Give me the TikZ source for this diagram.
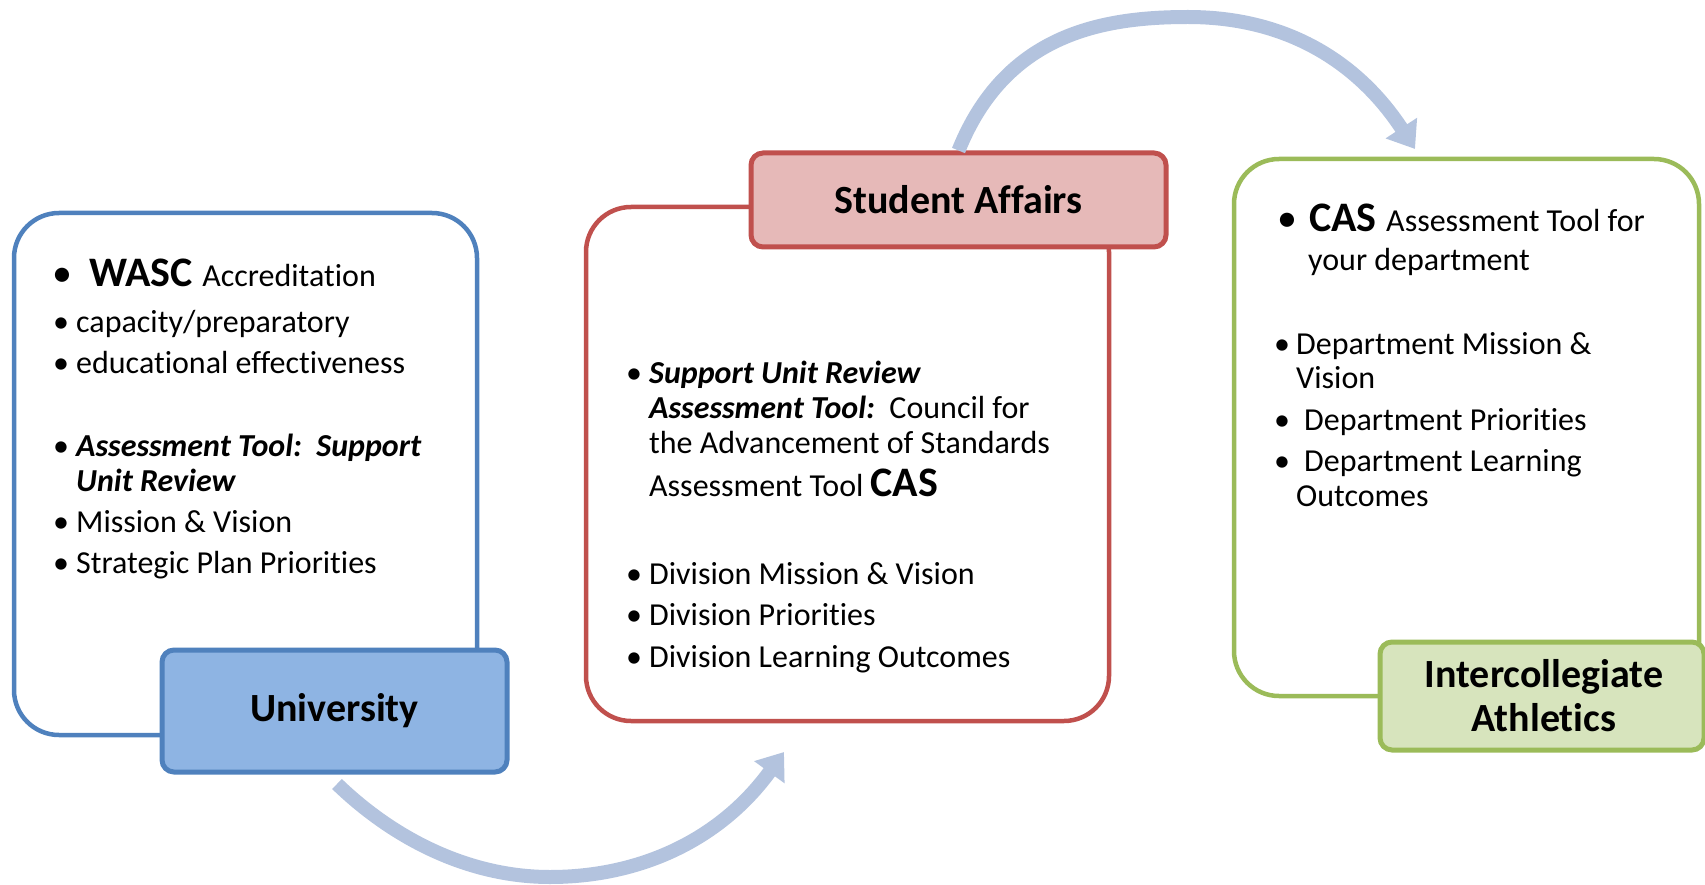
\documentclass[tikz,border=0pt]{standalone}
\usepackage{fontspec}
\setmainfont{Carlito}[RawFeature={-liga;-clig;-rlig;-calt;-dlig}]
\usetikzlibrary{arrows.meta}
\definecolor{bluec}{HTML}{4F81BD}
\definecolor{bluefill}{HTML}{8EB4E3}
\definecolor{redc}{HTML}{C0504D}
\definecolor{redfill}{HTML}{E6B9B8}
\definecolor{greenc}{HTML}{9BBB59}
\definecolor{greenfill}{HTML}{D7E4BD}
\definecolor{arrowc}{HTML}{B3C3DE}
\tikzset{
  bigbox/.style={rectangle, rounded corners=45pt, line width=4.5pt, fill=white, inner sep=0pt},
  titlebox/.style={rectangle, rounded corners=12pt, line width=5pt, inner sep=0pt, align=center,
                   font=\fontsize{40}{44}\selectfont\bfseries},
  txt/.style={anchor=base west, inner sep=0pt, font=\fontsize{32}{38}\selectfont},
  flow/.style={line width=14pt, draw=arrowc, -{Triangle[length=25pt,width=36pt]}}
}
\newcommand{\bigtxt}{\fontsize{42}{42}\selectfont\bfseries}
\newcommand{\normtxt}{\mdseries\fontsize{32}{38}\selectfont}
\begin{document}
\begin{tikzpicture}[x=1pt,y=-1pt]
\useasboundingbox (0,0) rectangle (1705,885);
% arrows
\coordinate (a1e) at (1415,149);
\coordinate (a2s) at (337,784);
\coordinate (a2e) at (784,752);
% boxes
\node[bigbox, draw=bluec, minimum width=463pt, minimum height=522pt] (ubox) at (245.5,474) {};
\node[titlebox, draw=bluec, fill=bluefill, minimum width=345pt, minimum height=122pt] (uni) at (334.5,711) {University};
\node[bigbox, draw=redc, minimum width=523pt, minimum height=514pt] (sbox) at (847.5,464) {};
\node[titlebox, draw=redc, fill=redfill, minimum width=415pt, minimum height=94pt] (sa) at (958.5,200) {Student Affairs};
\node[bigbox, draw=greenc, minimum width=465pt, minimum height=537pt] (gbox) at (1466.5,427.5) {};
\node[titlebox, draw=greenc, fill=greenfill, minimum width=324pt, minimum height=108pt] (ia) at (1542,696) {\hspace*{4pt}Intercollegiate\\\hspace*{4pt}Athletics};
\draw[flow] (sa.north) .. controls (1005,35) and (1100,17) .. (1188,17) .. controls (1290,17) and (1360,65) .. (a1e);
\draw[flow] (a2s) .. controls (395,840) and (470,877) .. (550,877) .. controls (640,877) and (720,840) .. (a2e);
% University text
\node[txt] (u1b) at (52,287) {\fontsize{40}{40}\selectfont\textbullet};
\node[txt] (u1) at (89,287) {\bigtxt WASC \normtxt Accreditation};
\node[txt] (u2b) at (53,332) {\textbullet};
\node[txt] (u2) at (76,332) {capacity/preparatory};
\node[txt] (u3b) at (53,373) {\textbullet};
\node[txt] (u3) at (76,373) {educational effectiveness};
\node[txt] (u4b) at (53,456) {\textbullet};
\node[txt] (u4) at (76,456) {\textbf{\textit{Assessment Tool:\ \ Support}}};
\node[txt] (u5) at (76,491) {\textbf{\textit{Unit Review}}};
\node[txt] (u6b) at (53,532) {\textbullet};
\node[txt] (u6) at (76,532) {Mission \& Vision};
\node[txt] (u7b) at (53,573) {\textbullet};
\node[txt] (u7) at (76,573) {Strategic Plan Priorities};
% Student Affairs text
\node[txt] (s1b) at (626,383) {\textbullet};
\node[txt] (s1) at (649,383) {\textbf{\textit{Support Unit Review}}};
\node[txt] (s2) at (649,418) {\textbf{\textit{Assessment Tool:}}\ \ Council for};
\node[txt] (s3) at (649,453) {the Advancement of Standards};
\node[txt] (s4) at (649,496) {Assessment Tool {\bigtxt CAS}};
\node[txt] (s5b) at (626,584) {\textbullet};
\node[txt] (s5) at (649,584) {Division Mission \& Vision};
\node[txt] (s6b) at (626,625) {\textbullet};
\node[txt] (s6) at (649,625) {Division Priorities};
\node[txt] (s7b) at (626,667) {\textbullet};
\node[txt] (s7) at (649,667) {Division Learning Outcomes};
% Athletics text
\node[txt] (g1b) at (1277,232) {\fontsize{40}{40}\selectfont\textbullet};
\node[txt] (g1) at (1309,232) {\bigtxt CAS \normtxt Assessment Tool for};
\node[txt] (g2) at (1308,271) {your department};
\node[txt] (g3b) at (1274,354) {\textbullet};
\node[txt] (g3) at (1296,354) {Department Mission \&};
\node[txt] (g4) at (1296,388) {Vision};
\node[txt] (g5b) at (1274,430) {\textbullet};
\node[txt] (g5) at (1304,430) {Department Priorities};
\node[txt] (g6b) at (1274,471) {\textbullet};
\node[txt] (g6) at (1304,471) {Department Learning};
\node[txt] (g7) at (1296,506) {Outcomes};
\end{tikzpicture}
\end{document}
